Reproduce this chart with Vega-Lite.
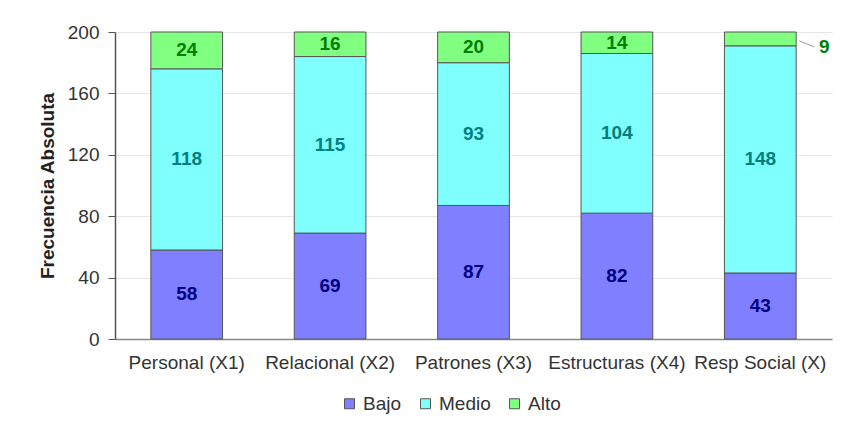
{
  "$schema": "https://vega.github.io/schema/vega-lite/v6.json",
  "width": 717,
  "height": 307,
  "autosize": "none",
  "padding": {"left": 115, "top": 32, "right": 13, "bottom": 91},
  "background": "white",
  "config": {
    "font": "Liberation Sans",
    "view": {"stroke": null}
  },
  "data": {
    "values": [
      {"cat": "Personal (X1)", "serie": "Bajo", "n": 1, "value": 58},
      {"cat": "Personal (X1)", "serie": "Medio", "n": 2, "value": 118},
      {"cat": "Personal (X1)", "serie": "Alto", "n": 3, "value": 24},
      {"cat": "Relacional (X2)", "serie": "Bajo", "n": 1, "value": 69},
      {"cat": "Relacional (X2)", "serie": "Medio", "n": 2, "value": 115},
      {"cat": "Relacional (X2)", "serie": "Alto", "n": 3, "value": 16},
      {"cat": "Patrones (X3)", "serie": "Bajo", "n": 1, "value": 87},
      {"cat": "Patrones (X3)", "serie": "Medio", "n": 2, "value": 93},
      {"cat": "Patrones (X3)", "serie": "Alto", "n": 3, "value": 20},
      {"cat": "Estructuras (X4)", "serie": "Bajo", "n": 1, "value": 82},
      {"cat": "Estructuras (X4)", "serie": "Medio", "n": 2, "value": 104},
      {"cat": "Estructuras (X4)", "serie": "Alto", "n": 3, "value": 14},
      {"cat": "Resp Social (X)", "serie": "Bajo", "n": 1, "value": 43},
      {"cat": "Resp Social (X)", "serie": "Medio", "n": 2, "value": 148},
      {"cat": "Resp Social (X)", "serie": "Alto", "n": 3, "value": 9}
    ]
  },
  "transform": [
    {"stack": "value", "groupby": ["cat"], "sort": [{"field": "n", "order": "ascending"}], "as": ["y0", "y1"]},
    {"calculate": "(datum.y0 + datum.y1) / 2", "as": "mid"}
  ],
  "encoding": {
    "x": {
      "field": "cat",
      "type": "nominal",
      "sort": null,
      "scale": {"paddingInner": 0.5, "paddingOuter": 0.25},
      "axis": {
        "title": null,
        "labelAngle": 0,
        "labelFontSize": 19,
        "labelColor": "#333333",
        "labelPadding": 14,
        "ticks": false,
        "domainColor": "#888888",
        "domainWidth": 1.5
      }
    }
  },
  "layer": [
    {
      "mark": {"type": "bar", "stroke": "#555555", "strokeWidth": 1},
      "encoding": {
        "y": {
          "field": "y0",
          "type": "quantitative",
          "scale": {"domain": [0, 200]},
          "axis": {
            "title": "Frecuencia Absoluta",
            "titleFontSize": 19,
            "titleFontWeight": "bold",
            "titleColor": "#222222",
            "titlePadding": 10,
            "values": [0, 40, 80, 120, 160, 200],
            "labelFontSize": 19,
            "labelColor": "#333333",
            "labelPadding": 9,
            "tickSize": 7,
            "tickColor": "#555555",
            "domainColor": "#555555",
            "domainWidth": 1.5,
            "gridColor": "#e6e6e6"
          }
        },
        "y2": {"field": "y1"},
        "color": {
          "field": "serie",
          "type": "nominal",
          "scale": {"domain": ["Bajo", "Medio", "Alto"], "range": ["#7f7fff", "#80ffff", "#80ff80"]},
          "legend": {
            "title": null,
            "orient": "none",
            "direction": "horizontal",
            "legendX": 225,
            "legendY": 362,
            "symbolType": "square",
            "symbolSize": 100,
            "symbolStrokeColor": "#555555",
            "symbolStrokeWidth": 1,
            "labelFontSize": 19,
            "labelColor": "#333333",
            "labelOffset": 4,
            "columnPadding": 14
          }
        }
      }
    },
    {
      "transform": [{"filter": "datum.value >= 10"}],
      "mark": {"type": "text", "fontWeight": "bold", "fontSize": 19},
      "encoding": {
        "y": {"field": "mid", "type": "quantitative"},
        "text": {"field": "value", "type": "quantitative"},
        "color": {
          "condition": [
            {"test": "datum.serie === 'Bajo'", "value": "#000080"},
            {"test": "datum.serie === 'Medio'", "value": "#008080"}
          ],
          "value": "#008000"
        }
      }
    },
    {
      "transform": [{"filter": "datum.value < 10"}],
      "mark": {"type": "text", "fontWeight": "bold", "fontSize": 19, "dx": 64, "dy": 8, "color": "#008000"},
      "encoding": {
        "y": {"field": "mid", "type": "quantitative"},
        "text": {"field": "value", "type": "quantitative"}
      }
    },
    {
      "transform": [{"filter": "datum.value < 10"}],
      "mark": {"type": "rule", "color": "#999999", "strokeWidth": 1, "xOffset": 39, "x2Offset": 54, "yOffset": 2, "y2Offset": 8},
      "encoding": {
        "y": {"field": "mid", "type": "quantitative"},
        "y2": {"field": "mid"},
        "x2": {"field": "cat"}
      }
    }
  ]
}
